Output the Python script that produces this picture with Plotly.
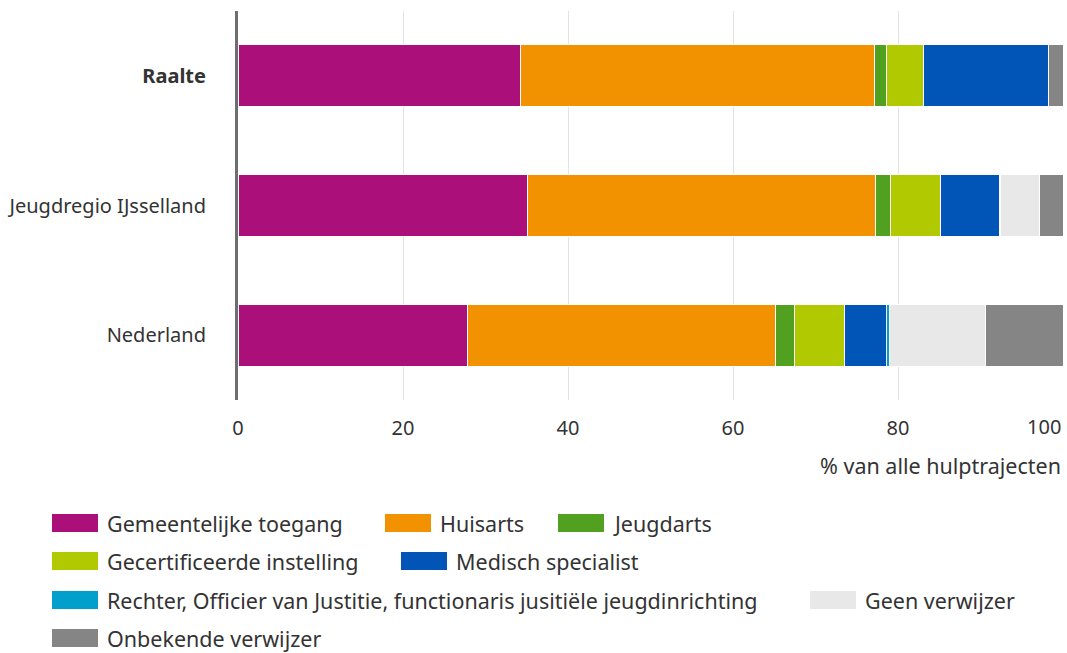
import plotly.graph_objects as go

regions = ["Raalte", "Jeugdregio IJsselland", "Nederland"]
region_labels = ["<b>Raalte</b>", "Jeugdregio IJsselland", "Nederland"]

series_names = [
    "Gemeentelijke toegang",
    "Huisarts",
    "Jeugdarts",
    "Gecertificeerde instelling",
    "Medisch specialist",
    "Rechter, Officier van Justitie, functionaris jusitiële jeugdinrichting",
    "Geen verwijzer",
    "Onbekende verwijzer",
]
gemeentelijke_toegang = [34.3, 35.1, 27.8]
huisarts = [42.8, 42.2, 37.4]
jeugdarts = [1.5, 1.8, 2.2]
gecertificeerde_instelling = [4.5, 6.1, 6.1]
medisch_specialist = [15.1, 7.1, 5.1]
rechter = [0.0, 0.1, 0.4]
geen_verwijzer = [0.0, 4.7, 11.6]
onbekende_verwijzer = [1.8, 2.9, 9.4]
series_values = [gemeentelijke_toegang, huisarts, jeugdarts, gecertificeerde_instelling,
                 medisch_specialist, rechter, geen_verwijzer, onbekende_verwijzer]
colors = ["#ab0f79", "#f39200", "#52a020", "#b0c900", "#0055b6", "#009fcc", "#e8e8e8", "#858585"]

x_ticks = [0, 20, 40, 60, 80, 100]
x_title = "% van alle hulptrajecten"

W, H = 1067, 653
L, R, T, B = 238, 4, 11, 253
PW, PH = W - L - R, H - T - B

def px(x):
    return (x - L) / PW

def py(y):
    return (H - B - y) / PH

fig = go.Figure()
for name, vals, col in zip(series_names, series_values, colors):
    fig.add_trace(go.Bar(
        y=regions, x=vals, name=name, orientation="h",
        marker=dict(color=col, line=dict(color="white", width=1)),
        showlegend=False, hovertemplate="%{y}: %{x}%<extra>" + name + "</extra>",
    ))

font_family = "Noto Sans"
text_color = "#333333"

# manual legend (swatch left x, row) in pixel layout
legend_pos = [(52, 0), (385, 0), (558, 0), (52, 1), (401, 1), (52, 2), (810, 2), (52, 3)]
row_y = [523, 561, 600, 638]
shapes = []
annotations = []
for (lx, row), name, col in zip(legend_pos, series_names, colors):
    yc = row_y[row]
    shapes.append(dict(type="rect", xref="paper", yref="paper",
                       x0=px(lx), x1=px(lx + 46), y0=py(yc + 9), y1=py(yc - 9),
                       fillcolor=col, line=dict(width=0), layer="above"))
    annotations.append(dict(xref="paper", yref="paper", x=px(lx + 53), y=py(yc),
                            text=name, showarrow=False, xanchor="left", yanchor="middle",
                            font=dict(size=21.5, color=text_color, family=font_family)))

annotations.append(dict(xref="paper", yref="paper", x=1, y=py(465), text=x_title,
                        showarrow=False, xanchor="right", yanchor="middle",
                        font=dict(size=21.5, color=text_color, family=font_family)))
# last tick label is right-aligned at the end of the axis
annotations.append(dict(xref="x", yref="paper", x=x_ticks[-1], y=py(427),
                        text=str(x_ticks[-1]), showarrow=False, xanchor="right",
                        yanchor="middle",
                        font=dict(size=20, color=text_color, family=font_family)))

fig.update_layout(
    barmode="stack",
    bargap=0.52,
    width=W, height=H,
    margin=dict(l=L, r=R, t=T, b=B, autoexpand=False),
    plot_bgcolor="white", paper_bgcolor="white",
    font=dict(family=font_family, size=20, color=text_color),
    shapes=shapes,
    annotations=annotations,
    xaxis=dict(range=[0, 100], tickvals=x_ticks,
               ticktext=[str(t) for t in x_ticks[:-1]] + [""],
               showgrid=True, gridcolor="#e3e3e3", gridwidth=1, zeroline=False,
               showline=False, ticks="", ticklabelstandoff=14,
               ticklabeloverflow="allow",
               tickfont=dict(size=20, color=text_color)),
    yaxis=dict(categoryorder="array", categoryarray=regions, autorange="reversed",
               tickvals=regions, ticktext=region_labels,
               showline=True, linecolor="#6e6e6e", linewidth=3, showgrid=False,
               zeroline=False, ticks="", ticklabelstandoff=25,
               tickfont=dict(size=20, color=text_color)),
)

fig.write_html("out.html", config={"displayModeBar": False},
               post_script="document.body.style.margin='0';document.body.style.overflow='hidden';")
